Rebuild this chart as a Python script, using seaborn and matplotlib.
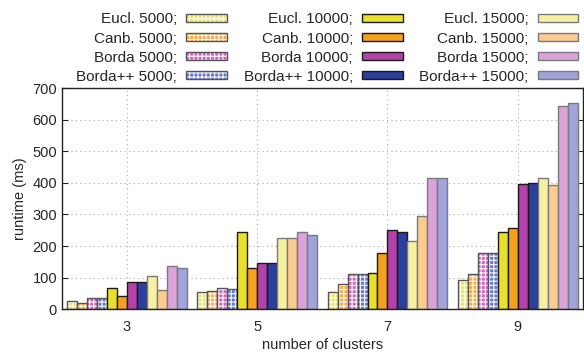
import matplotlib
matplotlib.use("Agg")
import matplotlib.pyplot as plt
import seaborn as sns
import pandas as pd

clusters = ["3", "5", "7", "9"]
series = ["Eucl. 5000", "Canb. 5000", "Borda 5000", "Borda++ 5000",
          "Eucl. 10000", "Canb. 10000", "Borda 10000", "Borda++ 10000",
          "Eucl. 15000", "Canb. 15000", "Borda 15000", "Borda++ 15000"]
eucl_5000 = [25, 55, 53, 93]
canb_5000 = [18, 58, 79, 112]
borda_5000 = [34, 66, 112, 177]
bordapp_5000 = [34, 63, 112, 177]
eucl_10000 = [68, 244, 115, 246]
canb_10000 = [43, 129, 178, 257]
borda_10000 = [85, 146, 251, 397]
bordapp_10000 = [85, 146, 246, 399]
eucl_15000 = [106, 227, 215, 414]
canb_15000 = [60, 227, 295, 394]
borda_15000 = [136, 244, 414, 644]
bordapp_15000 = [131, 235, 416, 654]
values = [eucl_5000, canb_5000, borda_5000, bordapp_5000,
          eucl_10000, canb_10000, borda_10000, bordapp_10000,
          eucl_15000, canb_15000, borda_15000, bordapp_15000]
colors = ["#ebe45c", "#f6aa45", "#d062c6", "#6474c8",
          "#e8e02c", "#f5a01e", "#b343aa", "#2c3f9c",
          "#f6f0a2", "#fbcb90", "#dca2da", "#a0a4da"]
edges = ["#555555"] * 4 + ["#1a1a1a"] * 4 + ["#7a7a7a"] * 4

rows = []
for s, vals in zip(series, values):
    for c, v in zip(clusters, vals):
        rows.append({"clusters": c, "series": s, "runtime": v})
df = pd.DataFrame(rows)

sns.set_style("ticks")
plt.rcParams["font.family"] = ["Liberation Sans", "DejaVu Sans"]
plt.rcParams["hatch.linewidth"] = 0.9

fig = plt.figure(figsize=(5.84, 3.57), dpi=100)
ax = fig.add_axes([0.106, 0.134, 0.892, 0.619])

sns.barplot(data=df, x="clusters", y="runtime", hue="series", hue_order=series,
            order=clusters, palette=colors, width=0.92, ax=ax, legend=True,
            linewidth=1.0, saturation=1)

for i, cont in enumerate(ax.containers):
    for p in cont.patches:
        p.set_edgecolor(edges[i])
        p.set_linewidth(1.0)
        if i < 4:
            p.set_hatch("++++")
            p._hatch_color = (1, 1, 1, 0.9)

ax.set_ylim(0, 700)
ax.set_xlim(-0.5, 3.5)
ax.set_yticks(range(0, 701, 100))
ax.grid(True, linestyle=(0, (1, 3)), color="#aaaaaa", linewidth=0.8)
ax.set_axisbelow(True)
ax.tick_params(axis="y", direction="in", right=True, labelsize=10.5, length=4)
ax.tick_params(axis="x", length=0, labelsize=10.5, pad=8)
for sp in ax.spines.values():
    sp.set_visible(True)
    sp.set_color("#222222")
    sp.set_linewidth(1.0)
ax.set_xlabel("number of clusters", fontsize=10.5, labelpad=3)
ax.set_ylabel("runtime (ms)", fontsize=10.5, labelpad=4)

handles, labels = ax.get_legend_handles_labels()
for i, h in enumerate(handles):
    h.set_edgecolor(edges[i])
    h.set_linewidth(1.0)
    if i < 4:
        h.set_hatch("++++")
        h._hatch_color = (1, 1, 1, 0.9)
ax.legend(handles, [l + ";" for l in labels], ncol=3, loc="lower right",
          bbox_to_anchor=(1.0, 1.0), frameon=False, markerfirst=False,
          fontsize=11, handlelength=2.65, handleheight=0.38, handletextpad=0.6,
          columnspacing=1.1, labelspacing=0.33, borderpad=0.05, borderaxespad=0.25)

fig.savefig("out.png", dpi=100)
